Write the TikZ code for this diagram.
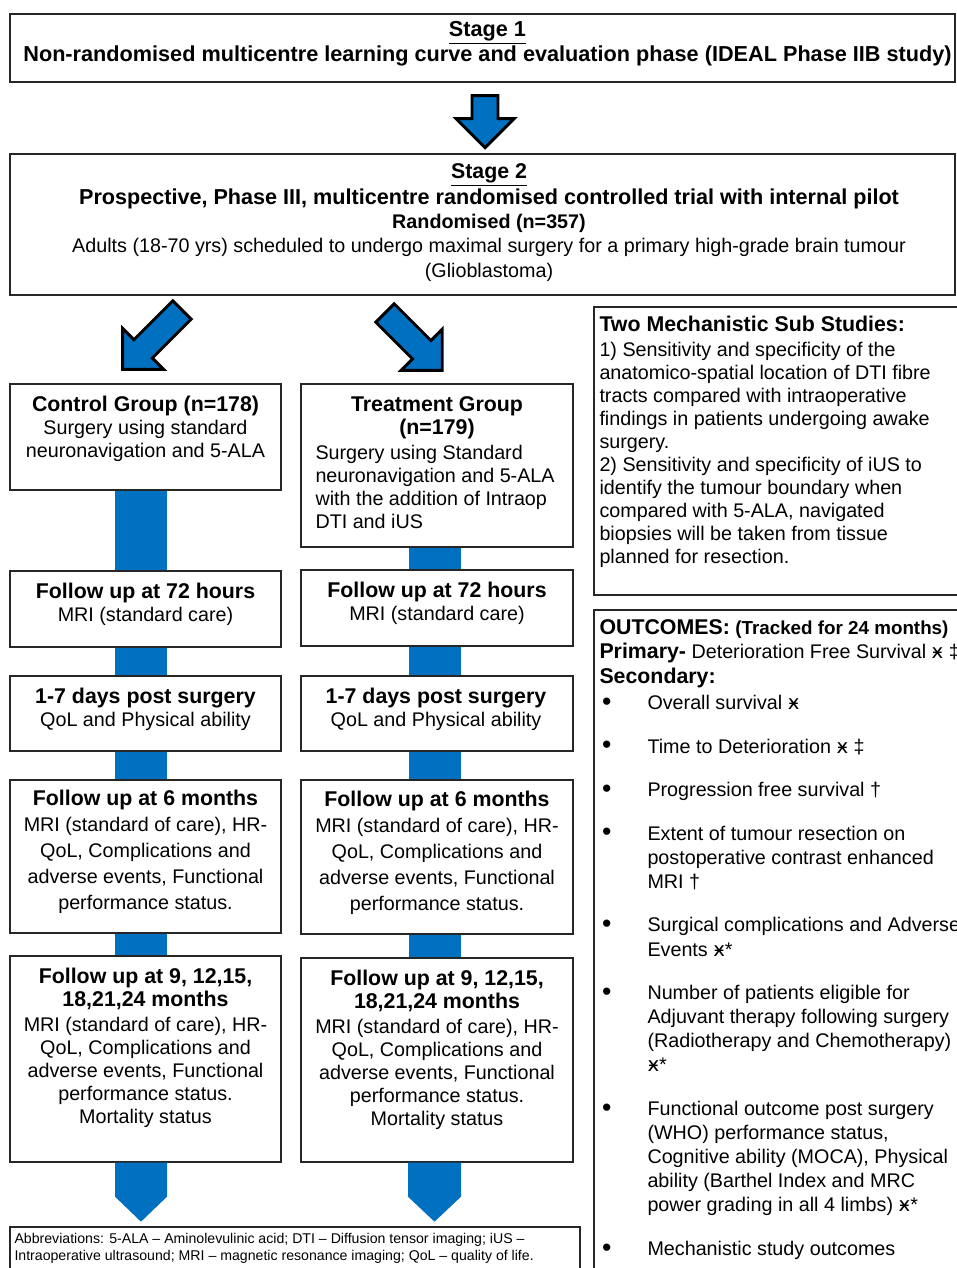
\documentclass[tikz,border=0pt]{standalone}
\usepackage{fontspec}
\setmainfont{Liberation Sans}
\newfontfamily\symfont{DejaVu Sans}
\usetikzlibrary{calc}

\definecolor{flowblue}{RGB}{0,112,192}
\newcommand{\hdfont}{\fontsize{16}{18}\selectfont\bfseries}
\newcommand{\txfont}{\fontsize{14.8}{17.25}\selectfont}
\newcommand{\xsym}{{\symfont\char"04FF}}
\newcommand{\bl}{\makebox[36pt][l]{\hspace{2pt}\raisebox{-0.5pt}{\scalebox{1.35}{\textbullet}}}}
\newcommand{\ind}{\hspace*{36pt}}
\newcommand{\blockarrow}[3]{%
  \draw[arrowline, shift={#1}, rotate=#2] (0,-13) -- (#3,-13) -- (#3,-29) -- ({#3+29},0) -- (#3,29) -- (#3,13) -- (0,13) -- cycle;}

\tikzset{every picture/.style={line width=0.75pt}}
\tikzset{
  box/.style 2 args={draw=black!85, line width=1pt, minimum width=#1*0.75pt, minimum height=#2*0.75pt, inner sep=0pt},
  txt/.style={inner sep=0pt, align=center, font=\txfont},
  bar/.style={draw=flowblue, line width=39pt},
  arrowline/.style={draw=black, line width=2.2pt, fill=flowblue, line join=miter},
}

\begin{document}
\begin{tikzpicture}[x=0.75pt,y=0.75pt,yscale=-1,xscale=1]
\useasboundingbox (0,0) rectangle (957,1268);
\clip (0,0) rectangle (957,1268);
%Stages
\node[box={945}{68}] (stage1) at (482.5,48) {};
\node[box={945}{141}] (stage2) at (482.5,224.5) {};
\node[txt, anchor=north, font=\fontsize{16.25}{18}\selectfont\bfseries] (s1t) at (487.5,21) {\underline{Stage 1}\\[1pt] Non-randomised multicentre learning curve and evaluation phase (IDEAL Phase IIB study)};
\node[txt, anchor=north] (s2t) at (489,163) {{\hdfont\underline{Stage 2}}\\[2pt]
  {\fontsize{16.2}{18}\selectfont\bfseries Prospective, Phase III, multicentre randomised controlled trial with internal pilot}\\[1pt]
  {\bfseries Randomised (n=357)}\\[1pt]
  Adults (18-70 yrs) scheduled to undergo maximal surgery for a primary high-grade brain tumour\\[1pt]
  (Glioblastoma)};
%Block arrows
\blockarrow{($(stage1.south)+(2.5,13)$)}{90}{23}
\blockarrow{(182,310)}{135}{55}
\blockarrow{(385,313)}{45}{52}
%Control arm
\node[box={271}{106}] (ctl) at (145.5,437) {};
\node[box={271}{76}] (fl1) at (145.5,609) {};
\node[box={271}{75}] (dl) at (145.5,713.5) {};
\node[box={271}{153}] (ml) at (145.5,856.5) {};
\node[box={271}{206}] (nl) at (145.5,1059) {};
%Treatment arm
\node[box={272}{163}] (trt) at (437,465.5) {};
\node[box={272}{76}] (fr1) at (437,608) {};
\node[box={272}{75}] (dr) at (437,713.5) {};
\node[box={272}{154}] (mr) at (437,857) {};
\node[box={272}{204}] (nr) at (437,1060) {};
%Bars between boxes
\coordinate (lbx) at (141,0);
\coordinate (rbx) at (434.5,0);
\draw[bar] (ctl.south -| lbx) -- (fl1.north -| lbx);
\draw[bar] (fl1.south -| lbx) -- (dl.north -| lbx);
\draw[bar] (dl.south -| lbx) -- (ml.north -| lbx);
\draw[bar] (ml.south -| lbx) -- (nl.north -| lbx);
\draw[bar] (trt.south -| rbx) -- (fr1.north -| rbx);
\draw[bar] (fr1.south -| rbx) -- (dr.north -| rbx);
\draw[bar] (dr.south -| rbx) -- (mr.north -| rbx);
\draw[bar] (mr.south -| rbx) -- (nr.north -| rbx);
\fill[flowblue] ($(nl.south -| lbx)+(-26,0)$) -- ++(52,0) -- ++(0,34) -- ++(-26,25) -- ++(-26,-25) -- cycle;
\fill[flowblue] ($(nr.south -| rbx)+(-26.5,0)$) -- ++(53,0) -- ++(0,34) -- ++(-26.5,25) -- ++(-26.5,-25) -- cycle;
%Box texts left
\node[txt, anchor=north] (ctlt) at (145.5,396) {{\hdfont Control Group (n=178)}\\ Surgery using standard\\ neuronavigation and 5-ALA};
\node[txt, anchor=north] (fl1t) at (145.5,583) {{\hdfont Follow up at 72 hours}\\ MRI (standard care)};
\node[txt, anchor=north] (dlt) at (145.5,688) {{\hdfont 1-7 days post surgery}\\ QoL and Physical ability};
\node[txt, anchor=north, font=\fontsize{14.8}{19.5}\selectfont] (mlt) at (145.5,790) {{\hdfont Follow up at 6 months}\\ MRI (standard of care), HR-\\ QoL, Complications and\\ adverse events, Functional\\ performance status.};
\node[txt, anchor=north] (nlt) at (145.5,968) {{\hdfont Follow up at 9, 12,15,}\\ {\hdfont 18,21,24 months}\\[1.5pt] MRI (standard of care), HR-\\ QoL, Complications and\\ adverse events, Functional\\ performance status.\\ Mortality status};
%Box texts right
\node[txt, anchor=north] (trth) at (437,396) {{\hdfont Treatment Group}\\ {\hdfont (n=179)}};
\node[txt, anchor=north west, align=left] (trtb) at (315,445) {Surgery using Standard\\ neuronavigation and 5-ALA\\ with the addition of Intraop\\ DTI and iUS};
\node[txt, anchor=north] (fr1t) at (437,582) {{\hdfont Follow up at 72 hours}\\ MRI (standard care)};
\node[txt, anchor=north] (drt) at (436,688) {{\hdfont 1-7 days post surgery}\\ QoL and Physical ability};
\node[txt, anchor=north, font=\fontsize{14.8}{19.5}\selectfont] (mrt) at (437,791) {{\hdfont Follow up at 6 months}\\ MRI (standard of care), HR-\\ QoL, Complications and\\ adverse events, Functional\\ performance status.};
\node[txt, anchor=north] (nrt) at (437,970) {{\hdfont Follow up at 9, 12,15,}\\ {\hdfont 18,21,24 months}\\[1.5pt] MRI (standard of care), HR-\\ QoL, Complications and\\ adverse events, Functional\\ performance status.\\ Mortality status};
%Side boxes
\node[box={376}{288}] (mech) at (782,451) {};
\node[box={376}{680}] (outc) at (782,950) {};
\node[txt, anchor=north west, align=left] (mecht) at (599,316) {{\hdfont Two Mechanistic Sub Studies:}\\[1pt]
  1) Sensitivity and specificity of the\\ anatomico-spatial location of DTI fibre\\ tracts compared with intraoperative\\ findings in patients undergoing awake\\ surgery.\\
  2) Sensitivity and specificity of iUS to\\ identify the tumour boundary when\\ compared with 5-ALA, navigated\\ biopsies will be taken from tissue\\ planned for resection.};
\node[txt, anchor=north west, align=left] (outch) at (599,619) {{\hdfont OUTCOMES:} {\fontsize{14.1}{17}\selectfont\bfseries(Tracked for 24 months)}\\[1pt]
  {\hdfont Primary-} Deterioration Free Survival \xsym\ ‡\\[1pt]
  {\hdfont Secondary:}};
\node[txt, anchor=north west, align=left, font=\fontsize{14.8}{18.1}\selectfont] (outcb) at (599,695) {\bl Overall survival \xsym\\[14.5pt]
  \bl Time to Deterioration \xsym\ ‡\\[14.5pt]
  \bl Progression free survival †\\[14.5pt]
  \bl Extent of tumour resection on\\ \ind postoperative contrast enhanced\\ \ind MRI †\\[14.5pt]
  \bl Surgical complications and Adverse\\ \ind Events \xsym*\\[14.5pt]
  \bl Number of patients eligible for\\ \ind Adjuvant therapy following surgery\\ \ind (Radiotherapy and Chemotherapy)\\ \ind \xsym*\\[14.5pt]
  \bl Functional outcome post surgery\\ \ind (WHO) performance status,\\ \ind Cognitive ability (MOCA), Physical\\ \ind ability (Barthel Index and MRC\\ \ind power grading in all 4 limbs) \xsym*\\[14.5pt]
  \bl Mechanistic study outcomes};
%Abbreviations
\node[box={570}{60}] (abbr) at (295,1257) {};
\node[txt, anchor=north west, align=left, font=\fontsize{10.6}{12.75}\selectfont] (abbrt) at (14,1233) {Abbreviations: 5-ALA -- Aminolevulinic acid; DTI -- Diffusion tensor imaging; iUS --\\ Intraoperative ultrasound; MRI -- magnetic resonance imaging; QoL -- quality of life.};
\end{tikzpicture}
\end{document}
